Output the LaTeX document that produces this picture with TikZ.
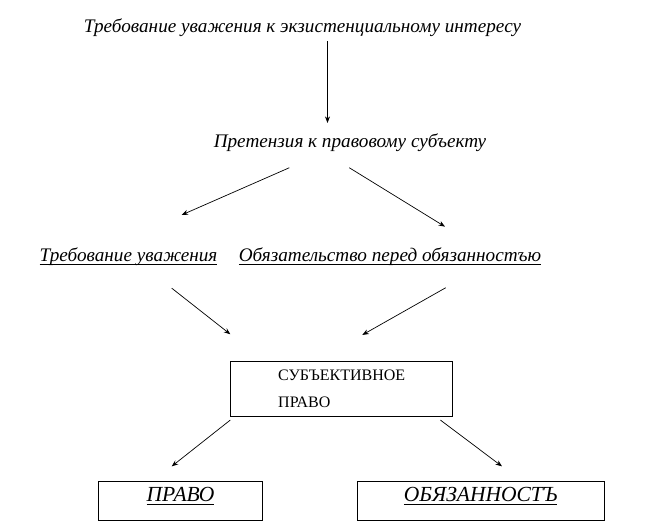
\documentclass[tikz,border=0pt]{standalone}
\usepackage{fontspec}
\setmainfont{Liberation Serif}
\usepackage{tikz}
\usetikzlibrary{shapes,arrows,arrows.meta}
\tikzstyle{tekst} = [inner sep=0pt, text height=12.8pt, text depth=4.3pt, font=\fontsize{19.2}{22}\selectfont\itshape]
\tikzstyle{blok} = [rectangle, draw, line width=0.8pt, minimum width=222pt, minimum height=54.7pt, align=left, font=\fontsize{16}{27}\selectfont]
\tikzstyle{kotak} = [rectangle, draw, line width=0.8pt, minimum height=38.7pt, text height=14.3pt, text depth=13.4pt, font=\fontsize{21.5}{24}\selectfont\itshape]
\tikzstyle{line} = [draw, -{Stealth[length=6.5pt,width=5pt]}, line width=0.7pt]
\newcommand{\podcherk}[1]{\setbox0\hbox{#1}\rlap{\rule[-3.3pt]{\wd0}{0.8pt}}\box0}

\begin{document}
\begin{tikzpicture}[x=1pt, y=1pt, node distance=115.7pt]
\useasboundingbox (0,0) rectangle (646,-532);
\node [tekst] (ekzist) at (302.5,-28) {Требование уважения к экзистенциальному интересу};
\node [tekst, below of=ekzist, xshift=47.5pt] (pretenziya) {Претензия к правовому субъекту};
\node [tekst, below of=pretenziya, node distance=113.7pt, xshift=-221.5pt] (uvazhenie) {\podcherk{Требование уважения}};
\node [tekst, right of=uvazhenie, node distance=261.5pt] (obyazatelstvo) {\podcherk{Обязательство перед обязанностъю}};

\node [blok, below of=pretenziya, node distance=245.3pt, xshift=-8.3pt] (subpravo) {СУБЪЕКТИВНОЕ\\ПРАВО};
\node [kotak, minimum width=164.4pt, below of=subpravo, node distance=112.1pt, xshift=-161.2pt] (pravo) {\podcherk{ПРАВО}};
\node [kotak, minimum width=246.7pt, right of=pravo, node distance=300.2pt] (obyazannost) {\podcherk{ОБЯЗАННОСТЪ}};

\path[line]([xshift=25pt,yshift=-4.4pt]ekzist.south) -- ([xshift=-22.5pt,yshift=12pt]pretenziya.north);
\path[line]([xshift=-60.7pt,yshift=-15.3pt]pretenziya.south) -- ([xshift=53.2pt,yshift=33.7pt]uvazhenie.north);
\path[line]([xshift=-0.7pt,yshift=-15.3pt]pretenziya.south) -- ([xshift=55pt,yshift=22pt]obyazatelstvo.north);

\path[line]([xshift=43.2pt,yshift=-22pt]uvazhenie.south) -- ([yshift=27pt]subpravo.north west);
\path[line]([xshift=55.7pt,yshift=-21.6pt]obyazatelstvo.south) -- ([xshift=20.6pt,yshift=26.3pt]subpravo.north);

\path[line]([yshift=-3.3pt]subpravo.south west) -- ([xshift=-8.8pt,yshift=15pt]pravo.north);
\path[line]([xshift=-12.7pt,yshift=-3.3pt]subpravo.south east) -- ([xshift=21.3pt,yshift=15pt]obyazannost.north);
\end{tikzpicture}
\end{document}
